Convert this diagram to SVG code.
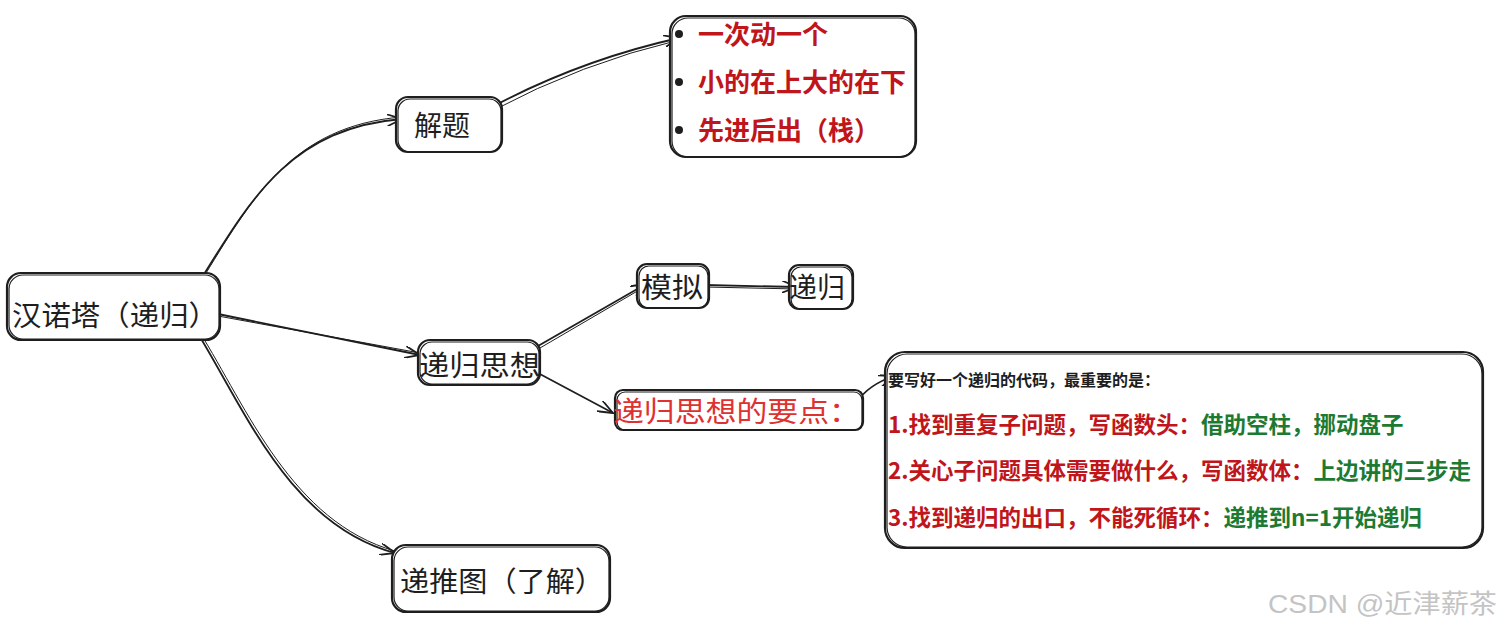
<svg xmlns="http://www.w3.org/2000/svg" width="1502" height="630" viewBox="0 0 1502 630">
<style>
.box{fill:#fff;stroke:#1e1e1e;stroke-width:2.2}
.box2{fill:none;stroke:#1e1e1e;stroke-width:1.2}
.hand{font-family:"Noto Sans CJK SC","Noto Sans",sans-serif;font-size:28px;fill:#1e1e1e}
.red{fill:#c0151b;font-family:"Noto Sans CJK SC",sans-serif;font-weight:700}
.grn{fill:#1d7a32;font-family:"Noto Sans CJK SC",sans-serif;font-weight:700}
.con{fill:none;stroke:#1e1e1e;stroke-width:1.8}
.con2{fill:none;stroke:#1e1e1e;stroke-width:1}
</style>
<defs>
<marker id="ah" viewBox="0 0 16 12" refX="15" refY="6" markerWidth="16" markerHeight="12" markerUnits="userSpaceOnUse" orient="auto">
<path d="M0,0 L15,6 L0,12" fill="none" stroke="#1e1e1e" stroke-width="1.8"/>
</marker>
</defs>
<rect width="1502" height="630" fill="#fff"/>

<g id="connectors">
<path class="con" d="M198,284 C250,200 290,128 402,119" marker-end="url(#ah)"/>
<path class="con2" d="M200,283 C252,198 292,126 402,117"/>
<path class="con" d="M218,314 L420,355" marker-end="url(#ah)"/>
<path class="con2" d="M218,316 L420,353"/>
<path class="con" d="M197,332 C245,410 290,525 395,553" marker-end="url(#ah)"/>
<path class="con2" d="M199,331 C247,408 292,522 395,551"/>
<path class="con" d="M490,108 Q580,60 679,38" marker-end="url(#ah)"/>
<path class="con2" d="M492,111 Q582,63 679,40"/>
<path class="con" d="M538,346 L646,284" marker-end="url(#ah)"/>
<path class="con2" d="M540,348 L646,286"/>
<path class="con" d="M538,373 L613,413" marker-end="url(#ah)"/>
<path class="con" d="M705,285 L797,287" marker-end="url(#ah)"/>
<path class="con2" d="M705,287 L797,289"/>
<path class="con" d="M857,402 Q868,385 894,376" marker-end="url(#ah)"/>
</g>

<g id="root">
<rect class="box" x="7" y="273" width="213" height="67" rx="14"/>
<rect class="box2" x="9" y="275" width="210" height="64" rx="14"/>
<text class="hand" x="12" y="326" textLength="206" lengthAdjust="spacingAndGlyphs">汉诺塔（递归）</text>
</g>

<g id="jieti">
<rect class="box" x="396" y="97" width="106" height="55" rx="12"/>
<rect class="box2" x="398" y="99" width="103" height="53" rx="12"/>
<text class="hand" x="414" y="136" font-size="27">解题</text>
</g>

<g id="bullets">
<rect class="box" x="670" y="16" width="246" height="141" rx="16"/>
<rect class="box2" x="672" y="18" width="243" height="139" rx="16"/>
<circle cx="679" cy="34" r="4" fill="#1e1e1e"/>
<circle cx="679" cy="82" r="4" fill="#1e1e1e"/>
<circle cx="679" cy="130" r="4" fill="#1e1e1e"/>
<text class="red" x="698" y="44" font-size="26">一次动一个</text>
<text class="red" x="698" y="92" font-size="26">小的在上大的在下</text>
<text class="red" x="698" y="140" font-size="26">先进后出（栈）</text>
</g>

<g id="sixiang">
<rect class="box" x="418" y="340" width="122" height="45" rx="12"/>
<rect class="box2" x="420" y="342" width="119" height="42" rx="12"/>
<text class="hand" x="419" y="376" font-size="30" textLength="121" lengthAdjust="spacingAndGlyphs">递归思想</text>
</g>

<g id="moni">
<rect class="box" x="637" y="264" width="72" height="44" rx="10"/>
<rect class="box2" x="639" y="266" width="69" height="42" rx="10"/>
<text class="hand" x="641" y="298" font-size="29" textLength="62" lengthAdjust="spacingAndGlyphs">模拟</text>
</g>

<g id="digui">
<rect class="box" x="789" y="265" width="64" height="44" rx="10"/>
<rect class="box2" x="791" y="267" width="61" height="42" rx="10"/>
<text class="hand" x="789" y="298" font-size="29" textLength="56" lengthAdjust="spacingAndGlyphs">递归</text>
</g>

<g id="yaodian">
<rect class="box" x="615" y="390" width="248" height="40" rx="8"/>
<rect class="box2" x="617" y="392" width="245" height="38" rx="8"/>
<text class="hand" x="613" y="422" font-size="28" style="fill:#e03131" textLength="247" lengthAdjust="spacingAndGlyphs">递归思想的要点：</text>
</g>

<g id="detail">
<rect class="box" x="885" y="352" width="598" height="196" rx="20"/>
<rect class="box2" x="887" y="354" width="595" height="193" rx="20"/>
<text x="888" y="386" font-family="Noto Sans CJK SC,sans-serif" font-weight="700" font-size="16" fill="#1e1e1e">要写好一个递归的代码，最重要的是：</text>
<text x="888" y="433" font-size="22.5"><tspan class="red">1.找到重复子问题，写函数头：</tspan><tspan class="grn">借助空柱，挪动盘子</tspan></text>
<text x="888" y="479" font-size="22.5"><tspan class="red">2.关心子问题具体需要做什么，写函数体：</tspan><tspan class="grn">上边讲的三步走</tspan></text>
<text x="888" y="526" font-size="22.5"><tspan class="red">3.找到递归的出口，不能死循环：</tspan><tspan class="grn">递推到n=1开始递归</tspan></text>
</g>

<g id="ditui">
<rect class="box" x="392" y="545" width="218" height="67" rx="14"/>
<rect class="box2" x="394" y="547" width="215" height="64" rx="14"/>
<text class="hand" x="400" y="592" font-size="28" textLength="204" lengthAdjust="spacingAndGlyphs">递推图（了解）</text>
</g>

<text x="1268" y="613" font-family="Liberation Sans,Noto Sans CJK SC,sans-serif" font-size="26" fill="#c4c4c4" textLength="229" lengthAdjust="spacingAndGlyphs">CSDN @近津薪茶</text>
</svg>
